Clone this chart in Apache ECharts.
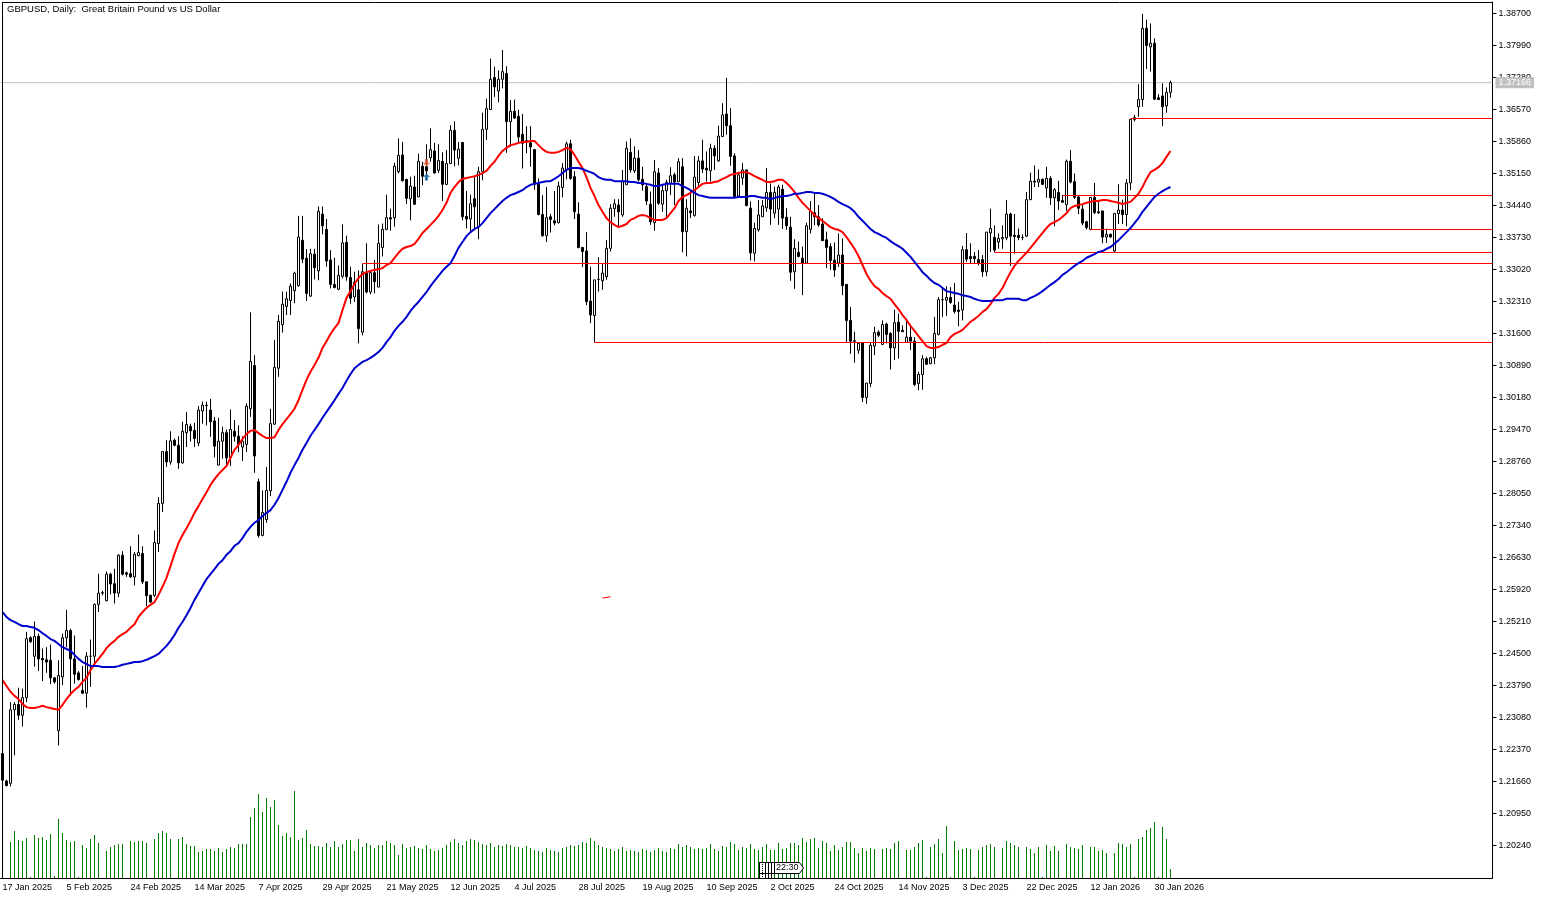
<!DOCTYPE html>
<html><head><meta charset="utf-8"><title>GBPUSD Daily</title>
<style>html,body{margin:0;padding:0;background:#fff}#c{width:1545px;height:899px}</style>
<script src="https://cdn.jsdelivr.net/npm/echarts@6/dist/echarts.min.js"></script></head>
<body><div id="c"></div>
<script>
const chartTitle = "GBPUSD, Daily:  Great Britain Pound vs US Dollar";
const dateLabels = ["17 Jan 2025","5 Feb 2025","24 Feb 2025","14 Mar 2025","7 Apr 2025","29 Apr 2025","21 May 2025","12 Jun 2025","4 Jul 2025","28 Jul 2025","19 Aug 2025","10 Sep 2025","2 Oct 2025","24 Oct 2025","14 Nov 2025","3 Dec 2025","22 Dec 2025","12 Jan 2026","30 Jan 2026"];
const priceTicks = [1.387,1.3799,1.3728,1.3657,1.3586,1.3515,1.3444,1.3373,1.3302,1.3231,1.316,1.3089,1.3018,1.2947,1.2876,1.2805,1.2734,1.2663,1.2592,1.2521,1.245,1.2379,1.2308,1.2237,1.2166,1.2095,1.2024];
const lastPrice = 1.37166;
// open, close, low, high
const candles = [
[1.2228,1.2169,1.2155,1.2235],[1.2167,1.2157,1.2155,1.2170],[1.2162,1.2325,1.2155,1.2342],[1.2325,1.2337,1.2224,1.2342],[1.2337,1.2313,1.2303,1.2374],[1.2313,1.2352,1.2288,1.2372],[1.2352,1.2483,1.2342,1.2498],[1.2485,1.2476,1.2474,1.2488],[1.2444,1.2488,1.2421,1.2521],[1.2488,1.2438,1.2411,1.2494],
[1.2439,1.2436,1.2389,1.2461],[1.2436,1.2431,1.2407,1.2464],[1.2435,1.2396,1.2382,1.2470],[1.2396,1.2387,1.2383,1.2398],[1.2279,1.2401,1.2246,1.2435],[1.2398,1.2485,1.2380,1.2494],[1.2485,1.2501,1.2464,1.2547],[1.2501,1.2438,1.2357,1.2505],[1.2438,1.2404,1.2383,1.2490],[1.2407,1.2392,1.2390,1.2411],
[1.2368,1.2362,1.2360,1.2422],[1.2362,1.2444,1.2330,1.2453],[1.2444,1.2444,1.2376,1.2481],[1.2444,1.2559,1.2424,1.2561],[1.2559,1.2584,1.2542,1.2627],[1.2584,1.2585,1.2579,1.2589],[1.2567,1.2626,1.2566,1.2632],[1.2626,1.2604,1.2581,1.2629],[1.2605,1.2584,1.2561,1.2638],[1.2584,1.2668,1.2575,1.2670],
[1.2668,1.2626,1.2623,1.2677],[1.2629,1.2626,1.2620,1.2632],[1.2627,1.2620,1.2618,1.2688],[1.2620,1.2670,1.2601,1.2675],[1.2667,1.2674,1.2666,1.2714],[1.2672,1.2609,1.2604,1.2688],[1.2609,1.2578,1.2555,1.2609],[1.2579,1.2564,1.2562,1.2581],[1.2579,1.2696,1.2575,1.2723],[1.2694,1.2783,1.2675,1.2797],
[1.2783,1.2898,1.2764,1.2898],[1.2898,1.2875,1.2864,1.2923],[1.2875,1.2922,1.2869,1.2943],[1.2923,1.2912,1.2910,1.2927],[1.2912,1.2873,1.2860,1.2932],[1.2873,1.2943,1.2871,1.2964],[1.2940,1.2958,1.2908,1.2986],[1.2954,1.2944,1.2920,1.2960],[1.2945,1.2927,1.2908,1.2962],[1.2917,1.2990,1.2910,1.2999],
[1.2988,1.3001,1.2960,1.3009],[1.3001,1.3000,1.2956,1.3009],[1.2990,1.2964,1.2931,1.3015],[1.2966,1.2910,1.2885,1.2975],[1.2868,1.2921,1.2868,1.2973],[1.2921,1.2940,1.2882,1.2953],[1.2940,1.2884,1.2868,1.2947],[1.2885,1.2947,1.2866,1.2991],[1.2943,1.2932,1.2920,1.2968],[1.2932,1.2914,1.2897,1.2956],
[1.2908,1.2921,1.2877,1.2932],[1.2914,1.2999,1.2897,1.3005],[1.2993,1.3098,1.2975,1.3207],[1.3089,1.2888,1.2851,1.3112],[1.2831,1.2712,1.2707,1.2838],[1.2712,1.2763,1.2710,1.2812],[1.2747,1.2812,1.2740,1.2864],[1.2811,1.2960,1.2799,1.2993],[1.2959,1.3085,1.2957,1.3146],[1.3083,1.3187,1.3064,1.3201],
[1.3180,1.3225,1.3162,1.3253],[1.3220,1.3237,1.3201,1.3253],[1.3233,1.3265,1.3201,1.3271],[1.3255,1.3294,1.3227,1.3297],[1.3266,1.3374,1.3264,1.3421],[1.3367,1.3325,1.3316,1.3421],[1.3327,1.3249,1.3232,1.3347],[1.3243,1.3337,1.3241,1.3348],[1.3336,1.3306,1.3280,1.3348],[1.3299,1.3431,1.3278,1.3442],
[1.3425,1.3399,1.3380,1.3442],[1.3391,1.3321,1.3308,1.3414],[1.3323,1.3269,1.3260,1.3345],[1.3269,1.3262,1.3260,1.3328],[1.3258,1.3289,1.3256,1.3311],[1.3287,1.3361,1.3282,1.3402],[1.3362,1.3286,1.3277,1.3377],[1.3284,1.3238,1.3226,1.3308],[1.3241,1.3274,1.3230,1.3297],[1.3257,1.3171,1.3138,1.3300],
[1.3163,1.3297,1.3156,1.3315],[1.3295,1.3252,1.3249,1.3360],[1.3252,1.3295,1.3247,1.3300],[1.3295,1.3275,1.3249,1.3323],[1.3263,1.3360,1.3263,1.3402],[1.3351,1.3391,1.3331,1.3404],[1.3391,1.3417,1.3389,1.3468],[1.3417,1.3414,1.3388,1.3437],[1.3417,1.3531,1.3397,1.3539],[1.3519,1.3555,1.3515,1.3593],
[1.3556,1.3499,1.3497,1.3585],[1.3502,1.3460,1.3447,1.3502],[1.3459,1.3487,1.3411,1.3508],[1.3485,1.3447,1.3445,1.3510],[1.3463,1.3542,1.3463,1.3559],[1.3531,1.3509,1.3489,1.3541],[1.3530,1.3521,1.3500,1.3580],[1.3550,1.3568,1.3541,1.3615],[1.3565,1.3516,1.3515,1.3583],[1.3522,1.3544,1.3516,1.3580],
[1.3542,1.3491,1.3454,1.3562],[1.3491,1.3537,1.3489,1.3567],[1.3537,1.3611,1.3536,1.3622],[1.3611,1.3567,1.3531,1.3631],[1.3549,1.3569,1.3533,1.3585],[1.3584,1.3419,1.3411,1.3584],[1.3420,1.3414,1.3393,1.3476],[1.3414,1.3448,1.3385,1.3468],[1.3459,1.3441,1.3389,1.3509],[1.3397,1.3519,1.3369,1.3530],
[1.3519,1.3613,1.3500,1.3650],[1.3613,1.3659,1.3589,1.3681],[1.3657,1.3724,1.3656,1.3770],[1.3728,1.3707,1.3685,1.3752],[1.3698,1.3724,1.3673,1.3744],[1.3724,1.3741,1.3704,1.3789],[1.3737,1.3630,1.3561,1.3753],[1.3630,1.3653,1.3574,1.3678],[1.3653,1.3638,1.3636,1.3679],[1.3642,1.3596,1.3582,1.3656],
[1.3602,1.3582,1.3526,1.3647],[1.3587,1.3588,1.3560,1.3620],[1.3583,1.3574,1.3530,1.3620],[1.3568,1.3491,1.3479,1.3568],[1.3491,1.3424,1.3422,1.3504],[1.3424,1.3377,1.3375,1.3467],[1.3377,1.3417,1.3363,1.3485],[1.3419,1.3413,1.3384,1.3425],[1.3410,1.3405,1.3400,1.3476],[1.3406,1.3487,1.3404,1.3497],
[1.3484,1.3527,1.3462,1.3538],[1.3523,1.3581,1.3502,1.3586],[1.3581,1.3504,1.3501,1.3590],[1.3508,1.3430,1.3414,1.3520],[1.3425,1.3351,1.3349,1.3451],[1.3351,1.3342,1.3307,1.3352],[1.3343,1.3231,1.3223,1.3385],[1.3232,1.3201,1.3183,1.3308],[1.3200,1.3279,1.3140,1.3279],[1.3280,1.3280,1.3253,1.3329],
[1.3277,1.3294,1.3257,1.3316],[1.3286,1.3349,1.3279,1.3367],[1.3349,1.3438,1.3342,1.3447],[1.3437,1.3448,1.3419,1.3458],[1.3445,1.3430,1.3397,1.3458],[1.3423,1.3497,1.3419,1.3523],[1.3490,1.3571,1.3490,1.3586],[1.3562,1.3523,1.3517,1.3593],[1.3521,1.3549,1.3516,1.3575],[1.3549,1.3501,1.3497,1.3567],
[1.3502,1.3490,1.3477,1.3530],[1.3486,1.3454,1.3445,1.3493],[1.3447,1.3408,1.3401,1.3475],[1.3406,1.3519,1.3388,1.3545],[1.3516,1.3449,1.3445,1.3527],[1.3447,1.3477,1.3430,1.3492],[1.3477,1.3495,1.3416,1.3501],[1.3493,1.3510,1.3467,1.3529],[1.3512,1.3496,1.3445,1.3517],[1.3497,1.3541,1.3497,1.3549],
[1.3530,1.3386,1.3340,1.3549],[1.3386,1.3438,1.3331,1.3458],[1.3432,1.3428,1.3416,1.3476],[1.3422,1.3507,1.3419,1.3554],[1.3495,1.3543,1.3487,1.3554],[1.3543,1.3525,1.3516,1.3590],[1.3527,1.3523,1.3497,1.3564],[1.3521,1.3571,1.3497,1.3581],[1.3571,1.3554,1.3523,1.3578],[1.3543,1.3598,1.3541,1.3621],
[1.3597,1.3645,1.3597,1.3671],[1.3647,1.3621,1.3601,1.3727],[1.3621,1.3553,1.3532,1.3660],[1.3554,1.3464,1.3460,1.3560],[1.3465,1.3512,1.3464,1.3519],[1.3505,1.3523,1.3490,1.3538],[1.3523,1.3444,1.3442,1.3523],[1.3438,1.3339,1.3322,1.3453],[1.3338,1.3393,1.3320,1.3406],[1.3390,1.3423,1.3386,1.3456],
[1.3419,1.3443,1.3419,1.3456],[1.3439,1.3473,1.3430,1.3527],[1.3473,1.3436,1.3401,1.3493],[1.3427,1.3473,1.3416,1.3486],[1.3436,1.3485,1.3401,1.3490],[1.3480,1.3416,1.3392,1.3490],[1.3418,1.3399,1.3390,1.3438],[1.3396,1.3296,1.3277,1.3419],[1.3297,1.3349,1.3259,1.3369],[1.3340,1.3331,1.3329,1.3364],
[1.3327,1.3316,1.3245,1.3353],[1.3316,1.3399,1.3316,1.3406],[1.3391,1.3431,1.3382,1.3454],[1.3428,1.3419,1.3400,1.3471],[1.3419,1.3401,1.3397,1.3445],[1.3403,1.3366,1.3365,1.3416],[1.3368,1.3351,1.3305,1.3386],[1.3353,1.3322,1.3301,1.3360],[1.3323,1.3301,1.3286,1.3362],[1.3316,1.3334,1.3308,1.3382],
[1.3334,1.3266,1.3245,1.3371],[1.3269,1.3189,1.3140,1.3269],[1.3189,1.3143,1.3115,1.3219],[1.3144,1.3143,1.3095,1.3164],[1.3123,1.3138,1.3115,1.3141],[1.3139,1.3018,1.3008,1.3139],[1.3018,1.3050,1.3004,1.3050],[1.3049,1.3134,1.3041,1.3141],[1.3132,1.3162,1.3112,1.3175],[1.3163,1.3156,1.3152,1.3167],
[1.3136,1.3180,1.3134,1.3189],[1.3181,1.3158,1.3138,1.3184],[1.3160,1.3128,1.3080,1.3163],[1.3128,1.3184,1.3101,1.3213],[1.3185,1.3165,1.3104,1.3204],[1.3167,1.3164,1.3163,1.3178],[1.3140,1.3152,1.3139,1.3189],[1.3152,1.3143,1.3123,1.3176],[1.3143,1.3047,1.3043,1.3152],[1.3049,1.3069,1.3034,1.3075],
[1.3069,1.3104,1.3035,1.3112],[1.3104,1.3092,1.3090,1.3108],[1.3093,1.3106,1.3092,1.3108],[1.3106,1.3160,1.3092,1.3197],[1.3158,1.3235,1.3156,1.3241],[1.3235,1.3235,1.3197,1.3263],[1.3234,1.3240,1.3199,1.3265],[1.3240,1.3229,1.3226,1.3263],[1.3223,1.3209,1.3204,1.3272],[1.3212,1.3209,1.3176,1.3230],
[1.3212,1.3346,1.3189,1.3354],[1.3346,1.3325,1.3319,1.3383],[1.3331,1.3326,1.3315,1.3360],[1.3331,1.3326,1.3315,1.3341],[1.3324,1.3317,1.3311,1.3345],[1.3324,1.3297,1.3286,1.3334],[1.3297,1.3385,1.3287,1.3385],[1.3383,1.3393,1.3341,1.3437],[1.3373,1.3345,1.3340,1.3400],[1.3363,1.3371,1.3348,1.3382],
[1.3370,1.3373,1.3348,1.3400],[1.3372,1.3425,1.3367,1.3456],[1.3425,1.3376,1.3310,1.3428],[1.3378,1.3375,1.3337,1.3425],[1.3378,1.3373,1.3367,1.3393],[1.3373,1.3373,1.3367,1.3380],[1.3376,1.3457,1.3374,1.3474],[1.3457,1.3498,1.3456,1.3517],[1.3498,1.3496,1.3485,1.3533],[1.3496,1.3502,1.3485,1.3524],
[1.3502,1.3491,1.3489,1.3504],[1.3483,1.3504,1.3461,1.3530],[1.3504,1.3461,1.3445,1.3509],[1.3461,1.3479,1.3398,1.3483],[1.3473,1.3454,1.3434,1.3499],[1.3455,1.3451,1.3451,1.3467],[1.3446,1.3542,1.3432,1.3546],[1.3542,1.3496,1.3493,1.3567],[1.3497,1.3462,1.3459,1.3515],[1.3463,1.3438,1.3425,1.3465],
[1.3436,1.3405,1.3400,1.3447],[1.3408,1.3395,1.3391,1.3410],[1.3391,1.3462,1.3389,1.3462],[1.3462,1.3428,1.3425,1.3494],[1.3430,1.3428,1.3425,1.3452],[1.3432,1.3374,1.3360,1.3432],[1.3374,1.3380,1.3361,1.3393],[1.3380,1.3374,1.3373,1.3382],[1.3343,1.3426,1.3339,1.3428],[1.3426,1.3434,1.3403,1.3491],
[1.3434,1.3424,1.3403,1.3457],[1.3424,1.3494,1.3398,1.3503],[1.3494,1.3635,1.3478,1.3635],[1.3635,1.3639,1.3630,1.3645],[1.3663,1.3679,1.3641,1.3713],[1.3679,1.3837,1.3663,1.3869],[1.3837,1.3799,1.3747,1.3856],[1.3796,1.3804,1.3741,1.3848],[1.3804,1.3680,1.3678,1.3815],[1.3683,1.3679,1.3678,1.3691],
[1.3687,1.3663,1.3620,1.3715],[1.3665,1.3695,1.3650,1.3706],[1.3695,1.37166,1.3683,1.3721]
];
const tickVolume = [
0,0,36,47,38,37,40,1,43,40, 41,38,44,2,59,45,38,36,37,1, 33,30,39,43,35,0,27,31,33,34, 34,0,37,36,37,37,35,0,39,45,
47,45,39,0,39,41,34,32,32,26, 27,29,29,27,30,26,29,31,30,34, 34,34,61,70,84,66,80,71,78,53, 42,45,41,87,38,40,48,34,32,32,
31,35,31,37,31,34,38,38,27,39, 31,35,33,30,33,33,37,35,33,23, 34,30,31,32,30,29,33,29,27,28, 30,33,36,39,35,33,37,39,38,36,
34,33,35,31,33,32,34,33,31,31, 30,32,30,28,27,26,30,28,27,26, 30,31,33,32,33,36,35,40,37,33, 31,30,29,27,29,31,27,28,27,26,
29,28,26,28,30,27,26,30,29,34, 31,33,31,29,30,29,30,34,29,27, 32,31,36,34,28,31,30,34,29,28, 31,34,28,28,35,29,30,35,35,33,
40,36,39,40,30,37,35,27,33,28, 31,36,36,30,25,30,27,30,29,0, 29,30,29,35,37,0,28,28,31,35, 38,1,31,34,39,25,52,1,37,28,
29,30,29,1,28,31,33,34,31,0, 30,37,35,33,31,0,31,29,25,31, 1,33,27,32,27,0,34,31,30,29, 33,0,31,31,27,28,25,0,25,35,
34,31,34,1,39,41,48,50,56,1, 51,39,9];
const maFast = [
1.2391,1.2378,1.2365,1.2356,1.2349,1.2338,1.2331,1.2329,1.2329,1.2331, 1.2334,1.2331,1.2329,1.2327,1.2325,1.2336,1.2349,1.2360,1.2369,1.2376,
1.2387,1.2396,1.2413,1.2427,1.2438,1.2449,1.2462,1.2471,1.2478,1.2487, 1.2493,1.2498,1.2507,1.2515,1.2531,1.2542,1.2551,1.2558,1.2564,1.2580,
1.2598,1.2618,1.2644,1.2671,1.2695,1.2713,1.2728,1.2744,1.2762,1.2777, 1.2793,1.2808,1.2824,1.2837,1.2848,1.2857,1.2866,1.2884,1.2902,1.2913,
1.2926,1.2937,1.2944,1.2946,1.2939,1.2933,1.2928,1.2928,1.2930,1.2946, 1.2959,1.2970,1.2981,1.2993,1.3012,1.3035,1.3057,1.3075,1.3090,1.3106,
1.3128,1.3143,1.3159,1.3172,1.3183,1.3212,1.3239,1.3254,1.3270,1.3283, 1.3292,1.3296,1.3299,1.3301,1.3303,1.3305,1.3312,1.3316,1.3328,1.3339,
1.3348,1.3352,1.3354,1.3359,1.3370,1.3383,1.3392,1.3401,1.3410,1.3421, 1.3434,1.3450,1.3472,1.3485,1.3496,1.3503,1.3505,1.3507,1.3509,1.3512,
1.3516,1.3521,1.3532,1.3541,1.3554,1.3565,1.3572,1.3578,1.3580,1.3583, 1.3585,1.3585,1.3587,1.3587,1.3578,1.3569,1.3563,1.3561,1.3561,1.3563,
1.3567,1.3572,1.3569,1.3556,1.3541,1.3527,1.3507,1.3483,1.3465,1.3445, 1.3430,1.3416,1.3407,1.3401,1.3396,1.3399,1.3403,1.3412,1.3416,1.3421,
1.3423,1.3421,1.3416,1.3412,1.3412,1.3412,1.3416,1.3427,1.3438,1.3454, 1.3463,1.3467,1.3472,1.3478,1.3485,1.3492,1.3494,1.3494,1.3496,1.3498,
1.3503,1.3507,1.3512,1.3514,1.3516,1.3518,1.3518,1.3514,1.3509,1.3505, 1.3501,1.3496,1.3496,1.3498,1.3501,1.3501,1.3494,1.3485,1.3474,1.3461,
1.3450,1.3441,1.3432,1.3423,1.3416,1.3410,1.3403,1.3396,1.3392,1.3390, 1.3385,1.3374,1.3361,1.3348,1.3332,1.3312,1.3292,1.3277,1.3265,1.3259,
1.3250,1.3243,1.3237,1.3225,1.3214,1.3201,1.3190,1.3177,1.3166,1.3154, 1.3143,1.3132,1.3128,1.3128,1.3130,1.3135,1.3139,1.3152,1.3159,1.3163,
1.3168,1.3177,1.3186,1.3192,1.3199,1.3208,1.3214,1.3225,1.3239,1.3248, 1.3261,1.3279,1.3296,1.3310,1.3321,1.3330,1.3339,1.3350,1.3361,1.3372,
1.3383,1.3394,1.3403,1.3407,1.3412,1.3419,1.3427,1.3438,1.3443,1.3445, 1.3447,1.3450,1.3452,1.3454,1.3454,1.3456,1.3456,1.3454,1.3452,1.3450,
1.3447,1.3450,1.3452,1.3461,1.3470,1.3485,1.3503,1.3518,1.3523,1.3529, 1.3538,1.3552,1.3565];
const maSlow = [
1.2542,1.2531,1.2524,1.2520,1.2515,1.2511,1.2511,1.2509,1.2507,1.2502, 1.2495,1.2489,1.2482,1.2478,1.2471,1.2464,1.2460,1.2456,1.2447,1.2438,
1.2431,1.2427,1.2422,1.2422,1.2422,1.2420,1.2420,1.2420,1.2420,1.2422, 1.2425,1.2427,1.2429,1.2431,1.2431,1.2433,1.2436,1.2440,1.2444,1.2449,
1.2458,1.2467,1.2478,1.2491,1.2507,1.2520,1.2535,1.2551,1.2569,1.2584, 1.2600,1.2615,1.2626,1.2637,1.2649,1.2657,1.2669,1.2677,1.2689,1.2695,
1.2706,1.2720,1.2731,1.2740,1.2746,1.2755,1.2762,1.2768,1.2780,1.2795, 1.2813,1.2831,1.2851,1.2868,1.2884,1.2902,1.2917,1.2933,1.2946,1.2959,
1.2973,1.2986,1.2999,1.3012,1.3026,1.3039,1.3055,1.3070,1.3083,1.3090, 1.3097,1.3101,1.3106,1.3112,1.3119,1.3128,1.3141,1.3152,1.3166,1.3177,
1.3186,1.3197,1.3210,1.3221,1.3230,1.3241,1.3252,1.3265,1.3277,1.3288, 1.3299,1.3308,1.3316,1.3332,1.3350,1.3363,1.3376,1.3385,1.3392,1.3396,
1.3405,1.3416,1.3427,1.3436,1.3445,1.3454,1.3461,1.3467,1.3470,1.3474, 1.3478,1.3485,1.3490,1.3492,1.3494,1.3496,1.3498,1.3498,1.3503,1.3509,
1.3516,1.3523,1.3527,1.3527,1.3527,1.3525,1.3521,1.3518,1.3514,1.3507, 1.3503,1.3501,1.3501,1.3498,1.3498,1.3498,1.3498,1.3496,1.3496,1.3494,
1.3494,1.3492,1.3490,1.3487,1.3487,1.3490,1.3492,1.3492,1.3492,1.3492, 1.3487,1.3483,1.3478,1.3472,1.3467,1.3465,1.3463,1.3461,1.3461,1.3461,
1.3461,1.3461,1.3461,1.3461,1.3463,1.3463,1.3463,1.3465,1.3465,1.3463, 1.3461,1.3461,1.3458,1.3461,1.3463,1.3465,1.3465,1.3467,1.3470,1.3470,
1.3472,1.3474,1.3474,1.3472,1.3472,1.3470,1.3467,1.3463,1.3458,1.3452, 1.3447,1.3443,1.3438,1.3430,1.3419,1.3410,1.3401,1.3392,1.3385,1.3381,
1.3376,1.3372,1.3365,1.3359,1.3354,1.3348,1.3339,1.3330,1.3319,1.3308, 1.3296,1.3288,1.3279,1.3272,1.3268,1.3261,1.3254,1.3252,1.3250,1.3248,
1.3245,1.3243,1.3241,1.3237,1.3234,1.3232,1.3232,1.3232,1.3234,1.3234, 1.3234,1.3237,1.3237,1.3237,1.3237,1.3234,1.3234,1.3239,1.3243,1.3248,
1.3254,1.3261,1.3268,1.3274,1.3281,1.3290,1.3296,1.3303,1.3310,1.3316, 1.3321,1.3328,1.3332,1.3336,1.3341,1.3343,1.3348,1.3352,1.3359,1.3367,
1.3376,1.3385,1.3394,1.3405,1.3416,1.3430,1.3441,1.3452,1.3463,1.3470, 1.3476,1.3481,1.3485];
// trend lines: first bar index, price
const trendStart = [282,265,272,248,90,148];
const trendPrice = [1.36370,1.34662,1.33907,1.33397,1.33153,1.31400];
const stubBars = [150,152];
const stubPrices = [1.2573,1.2576];
const sellMark = [106,1.3539];
const buyMark = [106,1.3507];

const BAND = 373;
const categories = Array.from({length:BAND},(_,i)=> i%16===0 ? (dateLabels[i/16]||'') : '');
const FONT = '"Liberation Sans",sans-serif';
const K = 0.0071/32;
const yMax = 1.387 + 11.5*K, yMin = yMax - 876*K;

const series = [
 {type:'bar',name:'Volume',xAxisIndex:0,yAxisIndex:1,data:tickVolume,barWidth:1,itemStyle:{color:'#008000'},silent:true,animation:false,z:1},
 {type:'candlestick',name:'GBPUSD',xAxisIndex:0,yAxisIndex:0,data:candles,barWidth:2,animation:false,silent:true,z:2,
  itemStyle:{color:'#ffffff',color0:'#000000',borderColor:'#000000',borderColor0:'#000000',borderColorDoji:'#000000',borderWidth:1}},
 {type:'line',name:'MA fast',xAxisIndex:0,yAxisIndex:0,data:maFast,showSymbol:false,symbol:'none',lineStyle:{color:'#ff0000',width:2},animation:false,silent:true,z:4},
 {type:'line',name:'MA slow',xAxisIndex:0,yAxisIndex:0,data:maSlow,showSymbol:false,symbol:'none',lineStyle:{color:'#0000cd',width:2},animation:false,silent:true,z:4},
 {type:'line',name:'Last',xAxisIndex:1,yAxisIndex:0,data:[[0,lastPrice],[BAND,lastPrice]],symbol:'none',lineStyle:{color:'#c0c0c0',width:1},animation:false,silent:true,z:1,
  endLabel:{show:true,formatter:()=>lastPrice.toFixed(5),backgroundColor:'#c0c0c0',color:'#ffffff',fontFamily:FONT,fontSize:9,padding:[1,3,1,3],distance:3}},
 {type:'line',name:'Stub',xAxisIndex:0,yAxisIndex:0,data:stubBars.map((b,i)=>[b,stubPrices[i]]),symbol:'none',lineStyle:{color:'#ff0000',width:1},animation:false,silent:true,z:3},
 {type:'scatter',name:'Sell',xAxisIndex:0,yAxisIndex:0,data:[sellMark],symbol:'path://M3 0H7V5H10L5 10L0 5H3Z',symbolSize:[8,7],itemStyle:{color:'#e0502a'},animation:false,silent:true,z:5},
 {type:'scatter',name:'Buy',xAxisIndex:0,yAxisIndex:0,data:[buyMark],symbol:'path://M5 0L10 5H7V10H3V5H0Z',symbolSize:[8,7],itemStyle:{color:'#1a6fb0'},animation:false,silent:true,z:5}
];
trendStart.forEach((s,i)=>series.push({type:'line',name:'Trend'+i,xAxisIndex:1,yAxisIndex:0,data:[[s+0.5,trendPrice[i]],[BAND,trendPrice[i]]],symbol:'none',lineStyle:{color:'#ff0000',width:1},animation:false,silent:true,z:3}));

const stroke={stroke:'#000',lineWidth:1};
const vline=(x,y1,y2,dash)=>({type:'line',shape:{x1:x,y1:y1,x2:x,y2:y2},style:dash?{stroke:'#000',lineWidth:1,lineDash:[1,1]}:stroke,z:20});
const chart = echarts.init(document.getElementById('c'),null,{renderer:'canvas'});
chart.setOption({
 animation:false,backgroundColor:'#ffffff',
 title:{text:chartTitle,left:7,top:4,padding:0,textStyle:{fontFamily:FONT,fontSize:9.5,fontWeight:'normal',color:'#000'}},
 grid:{left:0.5,top:2,width:1492,height:876,containLabel:false,outerBoundsMode:'none'},
 xAxis:[
  {type:'category',data:categories,boundaryGap:true,axisLine:{onZero:false,lineStyle:{color:'#000',width:1}},
   axisTick:{alignWithLabel:true,interval:(i)=>i%16===0,length:4,lineStyle:{color:'#000'}},
   axisLabel:{interval:(i)=>i%16===0,align:'left',margin:5,color:'#000',fontFamily:FONT,fontSize:9},splitLine:{show:false}},
  {type:'value',min:0,max:BAND,show:false,splitLine:{show:false}}
 ],
 yAxis:[
  {type:'value',position:'right',min:yMin,max:yMax,axisLine:{show:true,onZero:false,lineStyle:{color:'#000',width:1}},
   axisTick:{show:true,length:4,lineStyle:{color:'#000'},customValues:priceTicks},
   axisLabel:{color:'#000',fontFamily:FONT,fontSize:9,margin:6,padding:[2,0,0,0],customValues:priceTicks,formatter:v=>v.toFixed(5)},splitLine:{show:false}},
  {type:'value',min:0,max:876,show:false,splitLine:{show:false}}
 ],
 series,
 graphic:[
  {type:'line',shape:{x1:2.5,y1:2,x2:2.5,y2:878},style:stroke,z:20},
  {type:'line',shape:{x1:2,y1:2.5,x2:1492,y2:2.5},style:stroke,z:20},
  {type:'rect',shape:{x:759,y:862,width:15,height:16},style:{fill:'#fff',stroke:'none'},z:19},
  vline(759.5,862,878),vline(762.5,862,878,true),vline(765.5,862,878),vline(768.5,862,878),vline(771.5,862,878),
  {type:'line',shape:{x1:759,y1:862.5,x2:774,y2:862.5},style:stroke,z:20},
  {type:'line',shape:{x1:759,y1:873.5,x2:774,y2:873.5},style:stroke,z:20},
  {type:'polygon',shape:{points:[[774.5,862.5],[799.5,862.5],[803.5,868],[799.5,873.5],[774.5,873.5]]},style:{fill:'#fff',stroke:'#000',lineWidth:1},z:20},
  {type:'text',x:776,y:863,style:{text:'22:30',fill:'#000',font:'9px "Liberation Sans",sans-serif'},z:21}
 ]
});
</script></body></html>
